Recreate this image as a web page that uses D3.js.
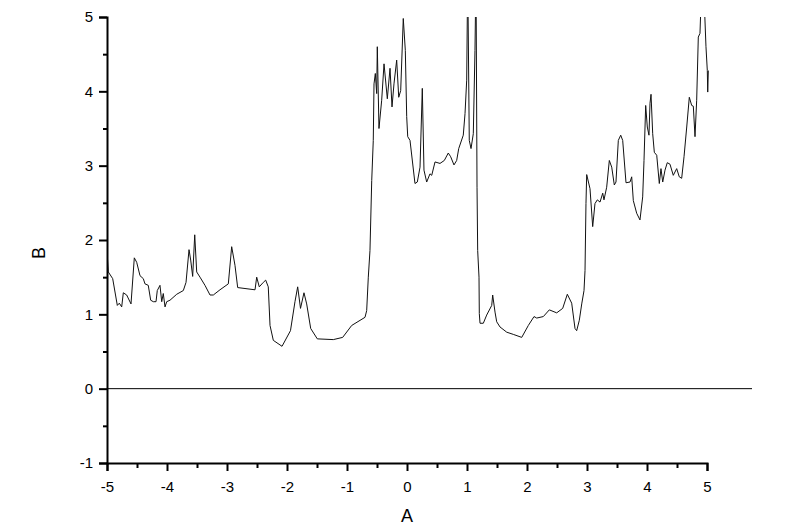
<!doctype html>
<html lang="">
    <head>
        <meta charset="utf-8">
        <title>B vs A</title>
        <style>
            body { margin: 0; background: #fff; }
            text { font-family: "Liberation Sans", Arial, sans-serif; }
        </style>
    </head>
    <body>

        <svg width="800" height="526"></svg>
        <script src="https://d3js.org/d3.v7.min.js"></script>
        <script>

        // data
        var xs = [-4.995, -4.978, -4.905, -4.828, -4.795, -4.755, -4.728, -4.672, -4.600, -4.545,
                  -4.505, -4.450, -4.395, -4.367, -4.312, -4.272, -4.228, -4.183, -4.162, -4.117,
                  -4.088, -4.062, -4.033, -4.005, -3.950, -3.838, -3.728, -3.683, -3.633, -3.605,
                  -3.572, -3.538, -3.505, -3.450, -3.367, -3.283, -3.228, -3.117, -2.978, -2.922,
                  -2.867, -2.822, -2.533, -2.505, -2.462, -2.395, -2.355, -2.312, -2.283, -2.228,
                  -2.083, -1.942, -1.867, -1.822, -1.775, -1.717, -1.672, -1.605, -1.495, -1.228,
                  -1.072, -0.922, -0.700, -0.672, -0.645, -0.617, -0.588, -0.562, -0.550, -0.528,
                  -0.505, -0.495, -0.467, -0.422, -0.383, -0.328, -0.283, -0.250, -0.217, -0.172,
                  -0.138, -0.105, -0.062, -0.028, -0.005, 0.012, 0.050, 0.133, 0.172, 0.217,
                  0.255, 0.283, 0.328, 0.383, 0.412, 0.467, 0.550, 0.622, 0.688, 0.728,
                  0.783, 0.828, 0.862, 0.938, 0.967, 0.995, 1.012, 1.038, 1.067, 1.105,
                  1.133, 1.150, 1.167, 1.178, 1.200, 1.205, 1.217, 1.272, 1.328, 1.412,
                  1.428, 1.467, 1.495, 1.550, 1.662, 1.772, 1.912, 2.022, 2.117, 2.162,
                  2.272, 2.372, 2.495, 2.595, 2.672, 2.745, 2.800, 2.828, 2.872, 2.912,
                  2.950, 2.967, 2.983, 2.995, 3.050, 3.095, 3.133, 3.172, 3.217, 3.262,
                  3.283, 3.328, 3.372, 3.412, 3.455, 3.483, 3.522, 3.562, 3.595, 3.650,
                  3.717, 3.745, 3.772, 3.828, 3.883, 3.928, 3.950, 3.978, 4.005, 4.033,
                  4.050, 4.067, 4.095, 4.122, 4.162, 4.205, 4.233, 4.262, 4.300, 4.338,
                  4.383, 4.438, 4.495, 4.538, 4.578, 4.617, 4.662, 4.705, 4.745, 4.772,
                  4.800, 4.828, 4.855, 4.883, 4.905, 4.950, 4.983, 5.005, 5.012, 5.022];

        var ys = [1.79, 1.57, 1.48, 1.12, 1.15, 1.10, 1.29, 1.26, 1.14, 1.76,
                  1.70, 1.52, 1.48, 1.41, 1.39, 1.19, 1.17, 1.17, 1.32, 1.39,
                  1.17, 1.28, 1.10, 1.17, 1.19, 1.27, 1.32, 1.43, 1.87, 1.73,
                  1.51, 2.07, 1.57, 1.50, 1.39, 1.26, 1.26, 1.33, 1.41, 1.91,
                  1.66, 1.36, 1.33, 1.50, 1.37, 1.43, 1.46, 1.37, 0.85, 0.65,
                  0.57, 0.78, 1.17, 1.37, 1.08, 1.29, 1.14, 0.81, 0.67, 0.66,
                  0.69, 0.85, 0.96, 1.05, 1.50, 1.86, 2.80, 3.34, 4.10, 4.24,
                  3.97, 4.60, 3.50, 3.88, 4.37, 3.90, 4.31, 3.79, 4.10, 4.42,
                  3.92, 4.01, 4.98, 4.55, 3.66, 3.39, 3.34, 2.76, 2.78, 2.98,
                  4.04, 2.94, 2.78, 2.89, 2.87, 3.05, 3.03, 3.07, 3.17, 3.12,
                  3.01, 3.07, 3.23, 3.41, 3.70, 4.15, 5.60, 3.34, 3.23, 3.43,
                  4.55, 5.60, 2.71, 1.86, 1.50, 1.01, 0.88, 0.88, 0.99, 1.12,
                  1.26, 1.03, 0.90, 0.83, 0.76, 0.73, 0.69, 0.85, 0.97, 0.95,
                  0.97, 1.06, 1.02, 1.08, 1.27, 1.15, 0.81, 0.78, 0.92, 1.14,
                  1.32, 1.59, 2.49, 2.88, 2.69, 2.18, 2.49, 2.54, 2.51, 2.63,
                  2.54, 2.71, 3.07, 2.98, 2.74, 2.78, 3.34, 3.41, 3.34, 2.77,
                  2.78, 2.85, 2.53, 2.36, 2.27, 2.58, 3.07, 3.81, 3.52, 3.41,
                  3.84, 3.96, 3.43, 3.18, 3.14, 2.76, 2.96, 2.78, 2.94, 3.04,
                  3.02, 2.87, 2.96, 2.85, 2.83, 3.12, 3.52, 3.92, 3.81, 3.80,
                  3.39, 3.88, 4.73, 4.78, 5.30, 5.30, 4.60, 4.28, 3.99, 4.28];

        var xTicks = [-5, -4, -3, -2, -1, 0, 1, 2, 3, 4, 5];
        var yTicks = [-1, 0, 1, 2, 3, 4, 5];
        var xMinor = [-4.5, -3.5, -2.5, -1.5, -0.5, 0.5, 1.5, 2.5, 3.5, 4.5];
        var yMinor = [-0.5, 0.5, 1.5, 2.5, 3.5, 4.5];
        var zeroLine = [[-5, 0], [5.75, 0]];

        var svg = d3.select("svg");

        var x = d3.scaleLinear().domain([-5, 5]).range([107, 707]);
        var y = d3.scaleLinear().domain([-1, 5]).range([463, 17]);

        var fmt = function(d) { return String(d); };

        svg.append("clipPath")
            .attr("id", "plot")
          .append("rect")
            .attr("x", x(-5))
            .attr("y", y(5))
            .attr("width", 700)
            .attr("height", y(-1) - y(5));

        // zero line
        svg.append("path")
            .attr("d", d3.line().x(function(d) { return x(d[0]); }).y(function(d) { return y(d[1]); })(zeroLine))
            .attr("fill", "none")
            .attr("stroke", "#000")
            .attr("stroke-width", 1);

        var pts = xs.map(function(v, i) { return [v, ys[i]]; });

        svg.append("path")
            .datum(pts)
            .attr("clip-path", "url(#plot)")
            .attr("fill", "none")
            .attr("stroke", "#111")
            .attr("stroke-width", 1)
            .attr("d", d3.line()
                .x(function(d) { return x(d[0]); })
                .y(function(d) { return y(d[1]); }));

        // axes
        svg.append("g")
            .attr("transform", "translate(0," + y(-1) + ")")
            .call(d3.axisBottom(x).tickValues(xTicks).tickSize(8).tickPadding(10).tickFormat(fmt));

        svg.append("g")
            .attr("transform", "translate(0," + y(-1) + ")")
            .call(d3.axisBottom(x).tickValues(xMinor).tickSize(5).tickFormat(""))
            .call(function(g) { g.select(".domain").remove(); });

        svg.append("g")
            .attr("transform", "translate(" + x(-5) + ",0)")
            .call(d3.axisLeft(y).tickValues(yTicks).tickSize(8).tickPadding(6).tickFormat(fmt));

        svg.append("g")
            .attr("transform", "translate(" + x(-5) + ",0)")
            .call(d3.axisLeft(y).tickValues(yMinor).tickSize(4).tickFormat(""))
            .call(function(g) { g.select(".domain").remove(); });

        svg.selectAll(".domain")
            .attr("stroke-width", 2);
        svg.selectAll(".tick line")
            .attr("stroke-width", 2);
        svg.selectAll(".tick text")
            .attr("font-family", "Liberation Sans, Arial, sans-serif")
            .attr("font-size", 15)
            .attr("fill", "#000");

        // axis titles
        svg.append("text")
            .attr("x", 407)
            .attr("y", 522)
            .attr("text-anchor", "middle")
            .attr("font-size", 18)
            .text("A");

        svg.append("text")
            .attr("transform", "translate(45,253) rotate(-90)")
            .attr("text-anchor", "middle")
            .attr("font-size", 18)
            .text("B");

        </script>

    </body>
</html>
